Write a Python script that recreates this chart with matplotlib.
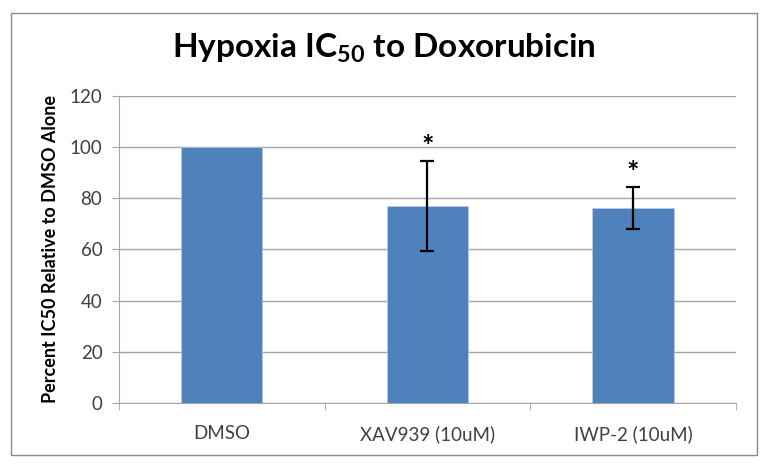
import numpy as np
import matplotlib
matplotlib.use('Agg')
import matplotlib.pyplot as plt
from matplotlib.patches import Rectangle

categories = ['DMSO', 'XAV939 (10uM)', 'IWP-2 (10uM)']
values = [100.0, 77.0, 76.2]
errors = [0.0, 17.6, 8.3]
stars = ['', '*', '*']
yticks = [0, 20, 40, 60, 80, 100, 120]

BAR = '#4F81BD'
GRID = '#A6A6A6'
TXT = '#404040'

plt.rcParams.update({'font.family': 'Lato', 'font.size': 11})

fig = plt.figure(figsize=(7.68, 4.68), dpi=100, facecolor='white')
fig.patches.append(Rectangle((0.014, 0.028), 0.972, 0.945, transform=fig.transFigure,
                             fill=False, edgecolor='#8C8C8C', linewidth=1.0))
ax = fig.add_axes([0.155, 0.139, 0.803, 0.656])

x = np.arange(len(categories))
ax.bar(x, values, width=0.395, color=BAR, edgecolor='#B9CDE5', linewidth=0.5, zorder=3)
mask = [e > 0 for e in errors]
ax.errorbar(x[mask], np.array(values)[mask], yerr=np.array(errors)[mask], fmt='none',
            ecolor='black', elinewidth=1.6, capsize=5, capthick=1.6, zorder=4)
for xi, v, e, s in zip(x, values, errors, stars):
    if s:
        ax.text(xi, v + e + 0.2, s, ha='center', va='bottom', fontsize=21, fontweight='bold')

ax.set_xlim(-0.5, len(categories) - 0.5)
ax.set_ylim(0, 120)
ax.set_yticks(yticks)
ax.yaxis.grid(True, color=GRID, linewidth=1.0, zorder=0)
ax.set_axisbelow(True)
ax.set_xticks(np.arange(len(categories) + 1) - 0.5, minor=True)
ax.set_xticks(x, categories)
ax.tick_params(axis='x', which='major', length=0, pad=16, labelsize=13.5, labelcolor=TXT)
ax.tick_params(axis='x', which='minor', length=5, color=GRID, direction='out')
ax.tick_params(axis='y', length=5, color=GRID, labelsize=13.5, pad=7, labelcolor=TXT)
for sp in ['top', 'right']:
    ax.spines[sp].set_visible(False)
ax.spines['left'].set_color(GRID)
ax.spines['bottom'].set_color(GRID)
ax.set_ylabel('Percent IC50 Relative to DMSO Alone', fontsize=13, fontweight='bold', labelpad=8)

fig.text(0.5, 0.897, r'Hypoxia IC$_{\mathregular{50}}$ to Doxorubicin', ha='center', va='center',
         fontsize=24, fontweight='bold')

fig.savefig('out.png', dpi=100, facecolor='white')
